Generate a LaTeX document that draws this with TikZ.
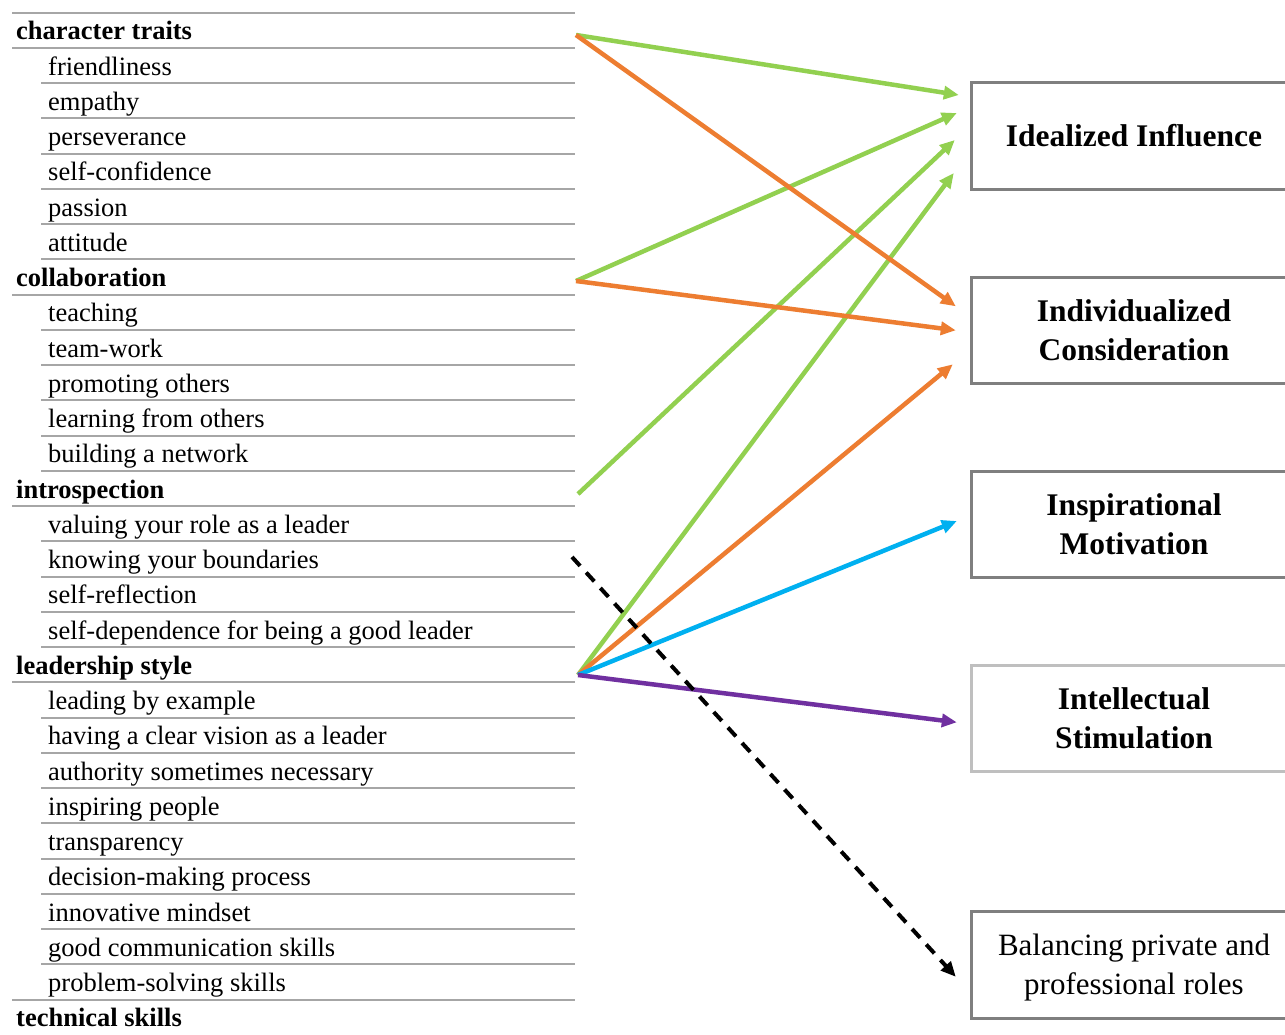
\documentclass[tikz,border=0pt]{standalone}
\usepackage{fontspec}
\setmainfont{Liberation Serif}
\usetikzlibrary{calc,arrows.meta}
\definecolor{rulegray}{RGB}{166,166,166}
\definecolor{boxgray}{RGB}{127,127,127}
\definecolor{boxlight}{RGB}{191,191,191}
\definecolor{cgreen}{RGB}{146,208,80}
\definecolor{corange}{RGB}{237,125,49}
\definecolor{cblue}{RGB}{0,176,240}
\definecolor{cpurple}{RGB}{112,48,160}
\begin{document}
\begin{tikzpicture}[x=1pt,y=-1pt,
  rowrule/.style={draw=rulegray,line width=2pt},
  cat/.style={inner sep=0pt,font=\fontsize{26.5pt}{32pt}\selectfont\bfseries},
  item/.style={inner sep=0pt,font=\fontsize{26.5pt}{32pt}\selectfont},
  dimbox/.style={minimum width=324pt,minimum height=106pt,align=center,inner sep=0pt,
    font=\fontsize{31.5pt}{39pt}\selectfont\bfseries},
  plainbox/.style={dimbox,font=\fontsize{31pt}{39pt}\selectfont},
  boxline/.style={draw=boxgray,line width=3pt},
  conn/.style={line width=4.5pt,-{Triangle[length=15pt,width=13pt]}},
  garrow/.style={conn,draw=cgreen,fill=cgreen},
  oarrow/.style={conn,draw=corange,fill=corange},
  barrow/.style={conn,draw=cblue,fill=cblue},
  parrow/.style={conn,draw=cpurple,fill=cpurple},
  darrow/.style={line width=4pt,draw=black,dash pattern=on 12pt off 9pt,-{Triangle[length=15pt,width=13pt]}}
]
\useasboundingbox (0,0) rectangle (1285,1034);
\fill[white] (0,0) rectangle (1285,1034);

% table rules
\foreach \k in {0,...,28}{
  \pgfmathsetmacro\yy{12.7+35.25*\k}
  \ifnum\k=0 \def\xs{12}\else\ifnum\k=1 \def\xs{12}\else\ifnum\k=8 \def\xs{12}\else
  \ifnum\k=14 \def\xs{12}\else\ifnum\k=19 \def\xs{12}\else\ifnum\k=28 \def\xs{12}\else
  \def\xs{41}\fi\fi\fi\fi\fi\fi
  \draw[rowrule] (\xs,\yy) -- (575,\yy);
}

% table texts
\foreach \k/\xx/\s/\t in {
  0/16/cat/character traits,
  1/48/item/friendliness,
  2/48/item/empathy,
  3/48/item/perseverance,
  4/48/item/self-confidence,
  5/48/item/passion,
  6/48/item/attitude,
  7/16/cat/collaboration,
  8/48/item/teaching,
  9/48/item/team-work,
  10/48/item/promoting others,
  11/48/item/learning from others,
  12/48/item/building a network,
  13/16/cat/introspection,
  14/48/item/valuing your role as a leader,
  15/48/item/knowing your boundaries,
  16/48/item/self-reflection,
  17/48/item/self-dependence for being a good leader,
  18/16/cat/leadership style,
  19/48/item/leading by example,
  20/48/item/having a clear vision as a leader,
  21/48/item/authority sometimes necessary,
  22/48/item/inspiring people,
  23/48/item/transparency,
  24/48/item/decision-making process,
  25/48/item/innovative mindset,
  26/48/item/good communication skills,
  27/48/item/problem-solving skills,
  28/16/cat/technical skills}{
  \pgfmathsetmacro\yb{12.7+35.25*(\k+1)-8.2}
  \node[\s,anchor=base west] (r\k) at (\xx,\yb) {\t};
}

% connector start points at the right end of rows
\coordinate (ctR) at (576,35);
\coordinate (colR) at (576,281);
\coordinate (intR) at (578,494);
\coordinate (knowR) at (572,557);
\coordinate (leadR) at (578,675);
\coordinate (edge) at (1285,0);

% boxes
\node[dimbox] (box1) at (1134,136) {Idealized Influence};
\node[dimbox] (box2) at (1134,330.3) {Individualized\\Consideration};
\node[dimbox] (box3) at (1134,524.5) {Inspirational\\Motivation};
\node[dimbox] (box4) at (1134,718.7) {Intellectual\\Stimulation};
\node[dimbox,draw=none] (box5) at (1134,964.8) {};
\node[plainbox,minimum height=0pt] (box5t) at ($(box5.center)+(0,3)$) {Balancing private and\\professional roles};

\foreach \b in {box1,box2,box3,box5}{
  \draw[boxline] (edge |- \b.north) -- (\b.north west) -- (\b.south west) -- (edge |- \b.south);
}
\draw[boxline,draw=boxlight] (edge |- box4.north) -- (box4.north west) -- (box4.south west) -- (edge |- box4.south);

% connectors
\draw[garrow] (ctR) -- ($(box1.west)+(-13,-41)$);
\draw[garrow] (colR) -- ($(box1.west)+(-15,-23)$);
\draw[garrow] (intR) -- ($(box1.west)+(-17,4)$);
\draw[garrow] (leadR) -- ($(box1.west)+(-18,37)$);
\draw[oarrow] (ctR) -- ($(box2.west)+(-16,-24)$);
\draw[oarrow] (colR) -- ($(box2.west)+(-16,0)$);
\draw[oarrow] (leadR) -- ($(box2.west)+(-19,34)$);
\draw[barrow] (leadR) -- ($(box3.west)+(-15,-3.5)$);
\draw[parrow] (leadR) -- ($(box4.west)+(-15,3.6)$);
\draw[darrow] (knowR) -- ($(box5.west)+(-16,12)$);
\end{tikzpicture}
\end{document}
